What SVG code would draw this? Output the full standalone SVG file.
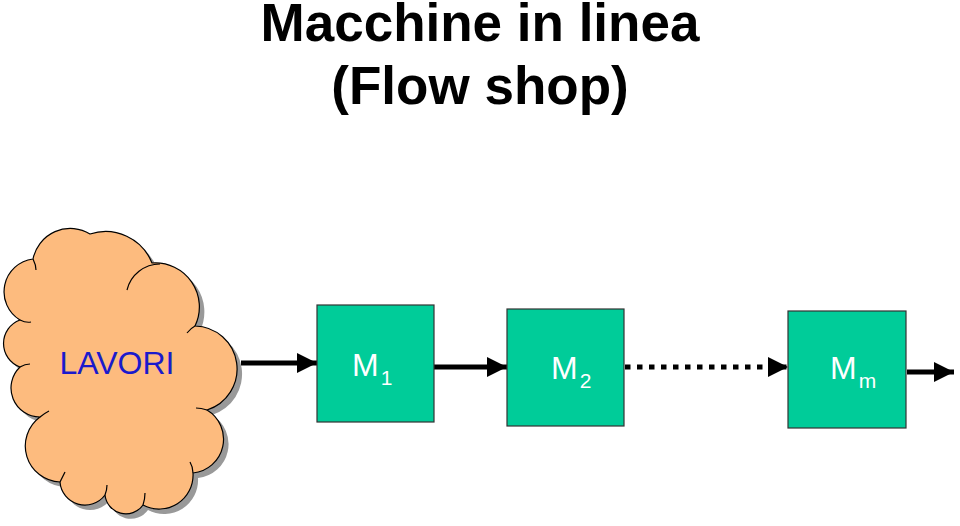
<svg xmlns="http://www.w3.org/2000/svg" width="960" height="526" viewBox="0 0 960 526">
<style>
.title{font-family:"Liberation Sans",Arial,sans-serif;font-weight:bold;font-size:53px;fill:#000;text-anchor:middle}
.box{fill:#00CC99;stroke:#333;stroke-width:1.2}
.ml{font-family:"Liberation Sans",Arial,sans-serif;font-size:32px;fill:#fff}
.sub{font-size:21px}
.conn{stroke:#000;stroke-width:5;fill:none}
.cloud{fill:#FDBB7E;stroke:#000;stroke-width:1.2;stroke-linejoin:round}
.tick{fill:none;stroke:#000;stroke-width:1.2}
.shadow{fill:#999}
</style>
<defs>
<marker id="ah" markerUnits="userSpaceOnUse" markerWidth="20" markerHeight="20" viewBox="0 0 20 20" refX="20" refY="10" orient="auto">
<path d="M0,0 L20,10 L0,20 Z" fill="#000"/>
</marker>
<path id="cloudPath" d="M20,320 A33,33 0 0 1 33,259 A38,38 0 0 1 90,234 A50,50 0 0 1 152,263 A44,44 0 0 1 195,326 A43,43 0 0 1 207,410 A34,34 0 0 1 193,473 A34,34 0 0 1 143,505 A21,21 0 0 1 105,495 A25,25 0 0 1 60,482 A36,36 0 0 1 40,417 A29,29 0 0 1 20,367 A25,25 0 0 1 20,320 Z"/>
</defs>
<text class="title" x="480" y="41">Macchine in linea</text>
<text class="title" x="480" y="104">(Flow shop)</text>
<g id="lavori">
<use href="#cloudPath" class="shadow" transform="translate(5,5)"/>
<use href="#cloudPath" class="cloud"/>
<path class="tick" d="M127,290 A34,34 0 0 1 160,264"/>
<path class="tick" d="M20,320 Q26,323 31,322"/>
<path class="tick" d="M33,259 Q36,265 36,270"/>
<path class="tick" d="M195,326 Q191,328 187,333"/>
<path class="tick" d="M207,410 Q201,408 196,408"/>
<path class="tick" d="M193,473 Q193,467 190,462"/>
<path class="tick" d="M143,505 Q145,499 145,493"/>
<path class="tick" d="M105,495 Q107,490 107,485"/>
<path class="tick" d="M60,482 Q63,476 65,472"/>
<path class="tick" d="M40,417 Q45,413 49,411"/>
<path class="tick" d="M20,367 Q25,364 30,364"/>
<text x="117" y="374" font-family="Liberation Sans,Arial,sans-serif" font-size="32" fill="#1A1ACC" text-anchor="middle">LAVORI</text>
</g>
<g id="connectors">
<line class="conn" x1="241" y1="363" x2="317" y2="363" marker-end="url(#ah)"/>
<line class="conn" x1="434" y1="367" x2="507" y2="367" marker-end="url(#ah)"/>
<line class="conn" x1="625" y1="367" x2="788" y2="367" stroke-dasharray="5.5 6.5" marker-end="url(#ah)"/>
<line class="conn" x1="907" y1="372" x2="954" y2="372" marker-end="url(#ah)"/>
</g>
<g id="m1">
<rect class="box" x="317" y="305" width="117" height="117"/>
<text class="ml" x="352" y="376">M<tspan class="sub" dx="2" dy="9">1</tspan></text>
</g>
<g id="m2">
<rect class="box" x="507" y="309" width="117" height="117"/>
<text class="ml" x="551" y="379">M<tspan class="sub" dx="2" dy="9">2</tspan></text>
</g>
<g id="mm">
<rect class="box" x="788" y="311" width="118" height="117"/>
<text class="ml" x="830" y="379">M<tspan class="sub" dx="2" dy="9">m</tspan></text>
</g>
</svg>
